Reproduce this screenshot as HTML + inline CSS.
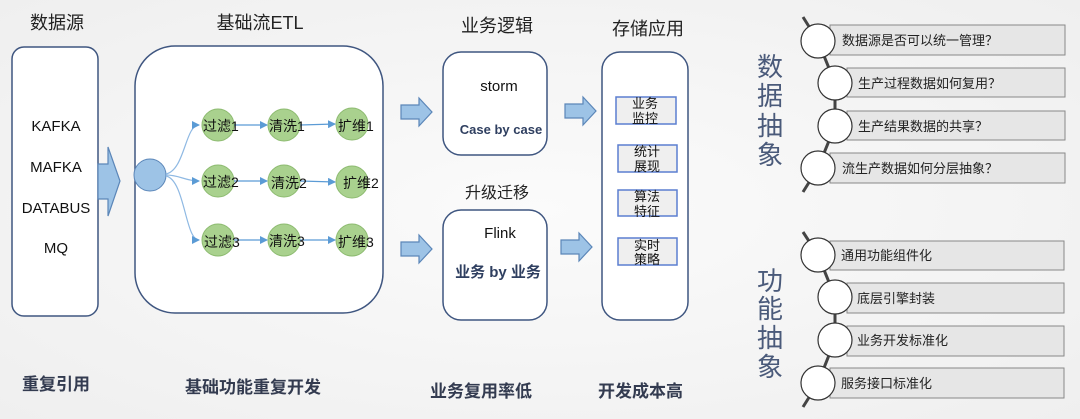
<!DOCTYPE html>
<html><head><meta charset="utf-8"><style>
body{margin:0;background:#f4f4f4;}
svg{display:block;font-family:"Liberation Sans","Noto Sans CJK SC",sans-serif;}
</style></head><body>
<svg width="1080" height="419" viewBox="0 0 1080 419">
<defs>
<radialGradient id="bg" cx="0.5" cy="0.5" r="0.7"><stop offset="0" stop-color="#fbfbfb"/><stop offset="1" stop-color="#efefef"/></radialGradient>
<marker id="ah" markerWidth="8" markerHeight="8" refX="7" refY="4" orient="auto" markerUnits="userSpaceOnUse"><path d="M0,0 L8,4 L0,8 z" fill="#5b9bd5"/></marker>
<g id="barrow"><path d="M0,-7 L18,-7 L18,-14 L31,0 L18,14 L18,7 L0,7 z" fill="#9dc3e6" stroke="#5b86b8" stroke-width="1.2"/></g>
</defs>
<rect width="1080" height="419" fill="url(#bg)"/>
<g font-size="18" fill="#222" text-anchor="middle">
<text x="57" y="29">数据源</text>
<text x="260" y="29">基础流ETL</text>
<text x="497" y="32">业务逻辑</text>
<text x="648" y="35">存储应用</text>
<text x="497" y="198" font-size="16">升级迁移</text>
</g>
<rect x="12" y="47" width="86" height="269" rx="12" fill="#fff" stroke="#3f5680" stroke-width="1.5"/>
<g font-size="15" fill="#111" text-anchor="middle">
<text x="56" y="131">KAFKA</text><text x="56" y="172">MAFKA</text><text x="56" y="213">DATABUS</text><text x="56" y="253">MQ</text>
</g>
<path d="M98,164 L108,164 L108,147 L120,181 L108,216 L108,199 L98,199 z" fill="#9dc3e6" stroke="#5b86b8" stroke-width="1.2"/>
<rect x="135" y="46" width="248" height="267" rx="40" fill="#fff" stroke="#3f5680" stroke-width="1.5"/>
<circle cx="150" cy="175" r="16" fill="#9dc3e6" stroke="#5b86b8"/>
<g fill="none" stroke="#8fb9e3" stroke-width="1.2">
<path d="M166,174 C185,170 185,125 199,125" marker-end="url(#ah)"/>
<path d="M166,175 C180,175 185,181 199,181" marker-end="url(#ah)"/>
<path d="M166,176 C185,180 185,240 199,240" marker-end="url(#ah)"/>
</g>
<g fill="#a9d18e" stroke="#8dbb70">
<circle cx="218" cy="125" r="16"/><circle cx="284" cy="125" r="16"/><circle cx="352" cy="124" r="16"/>
<circle cx="218" cy="181" r="16"/><circle cx="284" cy="181" r="16"/><circle cx="352" cy="182" r="16"/>
<circle cx="218" cy="240" r="16"/><circle cx="284" cy="240" r="16"/><circle cx="352" cy="240" r="16"/>
</g>
<g stroke="#5b9bd5" stroke-width="1.2">
<line x1="234" y1="125" x2="267" y2="125" marker-end="url(#ah)"/><line x1="300" y1="125" x2="335" y2="124" marker-end="url(#ah)"/>
<line x1="234" y1="181" x2="267" y2="181" marker-end="url(#ah)"/><line x1="300" y1="181" x2="335" y2="182" marker-end="url(#ah)"/>
<line x1="234" y1="240" x2="267" y2="240" marker-end="url(#ah)"/><line x1="300" y1="240" x2="335" y2="240" marker-end="url(#ah)"/>
</g>
<g font-size="14" fill="#111">
<text x="203" y="131">过滤1</text><text x="269" y="131">清洗1</text><text x="338" y="131">扩维1</text>
<text x="203" y="187">过滤2</text><text x="271" y="188">清洗2</text><text x="343" y="188">扩维2</text>
<text x="204" y="247">过滤3</text><text x="269" y="246">清洗3</text><text x="338" y="247">扩维3</text>
</g>
<use href="#barrow" x="401" y="112"/><use href="#barrow" x="401" y="249"/>
<use href="#barrow" x="565" y="111"/><use href="#barrow" x="561" y="247"/>
<rect x="443" y="52" width="104" height="103" rx="18" fill="#fff" stroke="#3f5680" stroke-width="1.5"/>
<rect x="443" y="210" width="104" height="110" rx="18" fill="#fff" stroke="#3f5680" stroke-width="1.5"/>
<text x="499" y="91" font-size="15" text-anchor="middle" fill="#111">storm</text>
<text x="501" y="134" font-size="13" font-weight="bold" text-anchor="middle" fill="#2f3f60">Case by case</text>
<text x="500" y="238" font-size="15" text-anchor="middle" fill="#111">Flink</text>
<text x="498" y="277" font-size="15" font-weight="bold" text-anchor="middle" fill="#2f3f60">业务 by 业务</text>
<rect x="602" y="52" width="86" height="268" rx="18" fill="#fff" stroke="#3f5680" stroke-width="1.5"/>
<g fill="#efefef" stroke="#5b7fd0" stroke-width="1.5">
<rect x="616" y="97" width="60" height="27"/><rect x="618" y="145" width="59" height="27"/>
<rect x="618" y="190" width="59" height="26"/><rect x="618" y="238" width="59" height="27"/>
</g>
<g font-size="13" fill="#111" text-anchor="middle">
<text x="645" y="108">业务</text><text x="645" y="123">监控</text>
<text x="647" y="156">统计</text><text x="647" y="171">展现</text>
<text x="647" y="201">算法</text><text x="647" y="216">特征</text>
<text x="647" y="250">实时</text><text x="647" y="264">策略</text>
</g>
<g font-size="17" font-weight="bold" fill="#333b50">
<text x="22" y="390">重复引用</text><text x="185" y="393">基础功能重复开发</text>
<text x="430" y="397">业务复用率低</text><text x="598" y="397">开发成本高</text>
</g>
<g font-size="26" fill="#4a5a7a" text-anchor="middle">
<text x="770" y="76">数</text><text x="770" y="105">据</text><text x="770" y="135">抽</text><text x="770" y="164">象</text>
<text x="770" y="290">功</text><text x="770" y="318">能</text><text x="770" y="347">抽</text><text x="770" y="376">象</text>
</g>
<g stroke="#444" stroke-width="3" fill="none">
<polyline points="803,17 818,41 835,83 835,126 818,168 803,192"/>
<polyline points="803,232 818,255 835,297 835,340 818,383 803,407"/>
</g>
<g fill="#e6e6e6" stroke="#888" stroke-width="1">
<rect x="830" y="25" width="235" height="30"/><rect x="847" y="68" width="218" height="29"/>
<rect x="847" y="111" width="218" height="29"/><rect x="830" y="153" width="235" height="30"/>
<rect x="830" y="241" width="234" height="29"/><rect x="847" y="283" width="217" height="30"/>
<rect x="847" y="326" width="217" height="30"/><rect x="830" y="368" width="234" height="30"/>
</g>
<g fill="#fff" stroke="#333" stroke-width="1.2">
<circle cx="818" cy="41" r="17"/><circle cx="835" cy="83" r="17"/><circle cx="835" cy="126" r="17"/><circle cx="818" cy="168" r="17"/>
<circle cx="818" cy="255" r="17"/><circle cx="835" cy="297" r="17"/><circle cx="835" cy="340" r="17"/><circle cx="818" cy="383" r="17"/>
</g>
<g font-size="13" fill="#222">
<text x="842" y="45">数据源是否可以统一管理？</text><text x="858" y="88">生产过程数据如何复用？</text>
<text x="858" y="131">生产结果数据的共享？</text><text x="842" y="173">流生产数据如何分层抽象？</text>
<text x="841" y="260">通用功能组件化</text><text x="857" y="303">底层引擎封装</text>
<text x="857" y="345">业务开发标准化</text><text x="841" y="388">服务接口标准化</text>
</g>
</svg>
</body></html>
